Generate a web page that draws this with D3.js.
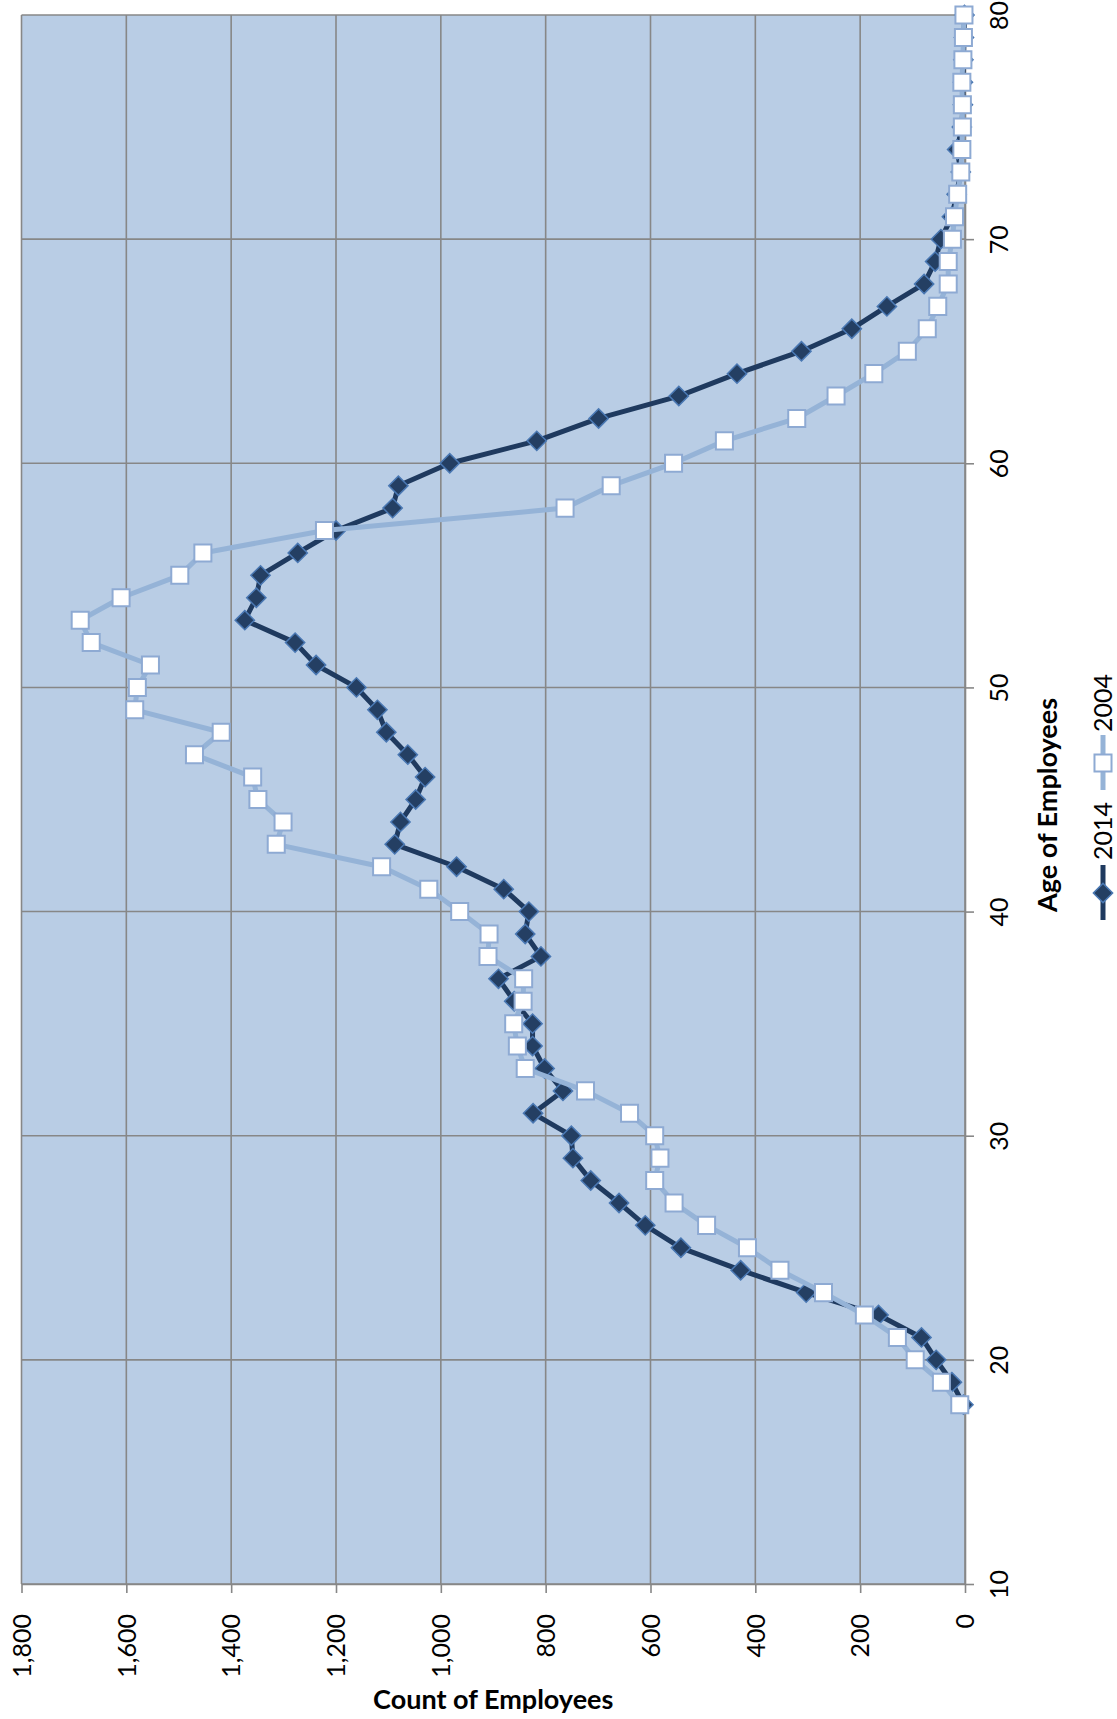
<!DOCTYPE html>
<html>
<head>
<meta charset="utf-8">
<script src="https://cdn.jsdelivr.net/npm/d3@7"></script>
<style>
  body { margin: 0; background: #fff; }
  #canvas { width: 1117px; height: 1719px; }
  .tick text { font-family: Lato, "Open Sans", sans-serif; }
</style>
</head>
<body>
<div id="canvas"></div>
<script>
// ages on the (vertical) category axis
var ages = d3.range(18, 81)

var count2014 = [3, 25, 55, 83, 165, 303, 428, 542, 610, 660, 714, 748, 751,
    824, 767, 802, 825, 825, 860, 890, 809, 839, 832, 880, 970,
    1088, 1077, 1048, 1030, 1063, 1104, 1121, 1161, 1238, 1278, 1374, 1352, 1344, 1273, 1200,
    1092, 1081, 983, 817, 699, 546, 435, 312, 216, 149, 78, 57, 46, 25, 16, 8, 15,
    6, 4, 4, 3, 2, 1]

var count2004 = [10, 45, 95, 129, 192, 270, 353, 415, 493, 555, 592, 582, 592,
    640, 724, 839, 854, 861, 843, 842, 910, 908, 964, 1023, 1113,
    1314, 1301, 1349, 1359, 1470, 1419, 1584, 1579, 1554, 1667, 1688, 1610, 1498, 1454, 1222,
    763, 675, 556, 459, 321, 246, 174, 110, 72, 52, 32, 32, 24, 20, 14, 8, 6,
    5, 5, 6, 4, 3, 2]

var countTicks = [0, 200, 400, 600, 800, 1000, 1200, 1400, 1600, 1800]
var ageTicks = [10, 20, 30, 40, 50, 60, 70, 80]

var width = 1117
var height = 1719
var plotLeft = 21.5, plotRight = 965, plotTop = 15, plotBottom = 1584

var svg = d3.select("#canvas")
    .append("svg")
    .attr("width", width)
    .attr("height", height)

var xScale = d3.scaleLinear().domain([0, 1800]).range([plotRight, plotLeft])
var yScale = d3.scaleLinear().domain([10, 80]).range([plotBottom, plotTop])

// plot area
svg.append("rect")
    .attr("x", plotLeft).attr("y", plotTop)
    .attr("width", plotRight - plotLeft).attr("height", plotBottom - plotTop)
    .attr("fill", "#b9cde5")

// grid
svg.selectAll(".vgrid")
    .data(countTicks)
    .enter()
    .append("line")
    .attr("x1", function (d) { return xScale(d) })
    .attr("x2", function (d) { return xScale(d) })
    .attr("y1", plotTop).attr("y2", plotBottom)
    .attr("stroke", "#878787").attr("stroke-width", 1.6)

svg.selectAll(".hgrid")
    .data(ageTicks)
    .enter()
    .append("line")
    .attr("x1", plotLeft).attr("x2", plotRight)
    .attr("y1", function (d) { return yScale(d) })
    .attr("y2", function (d) { return yScale(d) })
    .attr("stroke", "#878787").attr("stroke-width", 1.6)

// count axis (bottom), labels turned to read upwards
var xAxis = svg.append("g")
    .attr("transform", `translate(0,${plotBottom})`)
    .call(d3.axisBottom(xScale)
        .tickValues(countTicks)
        .tickSize(9)
        .tickSizeOuter(0)
        .tickFormat(d3.format(",")))

xAxis.select(".domain").attr("stroke", "#878787").attr("stroke-width", 1.6)
xAxis.selectAll(".tick line").attr("stroke", "#878787").attr("stroke-width", 1.6)
xAxis.selectAll(".tick text")
    .attr("x", -30)
    .attr("y", 0)
    .attr("dy", "0.35em")
    .attr("transform", "rotate(-90)")
    .style("text-anchor", "end")
    .style("font-size", "25px")
    .attr("fill", "#000")

// age axis (right side)
var yAxis = svg.append("g")
    .attr("transform", `translate(${plotRight},0)`)
    .call(d3.axisRight(yScale)
        .tickValues(ageTicks)
        .tickSize(9)
        .tickSizeOuter(0))

yAxis.select(".domain").attr("stroke", "#878787").attr("stroke-width", 1.6)
yAxis.selectAll(".tick line").attr("stroke", "#878787").attr("stroke-width", 1.6)
yAxis.selectAll(".tick text")
    .attr("x", 0)
    .attr("y", 0)
    .attr("dy", "0.35em")
    .attr("transform", "translate(34,0) rotate(-90)")
    .style("text-anchor", "middle")
    .style("font-size", "25px")
    .attr("fill", "#000")

// series
var line2014 = d3.line()
    .x(function (d, i) { return xScale(count2014[i]) })
    .y(function (d) { return yScale(d) })

var line2004 = d3.line()
    .x(function (d, i) { return xScale(count2004[i]) })
    .y(function (d) { return yScale(d) })

svg.append("path")
    .datum(ages)
    .attr("d", line2014)
    .attr("fill", "none")
    .attr("stroke", "#1f3a5f")
    .attr("stroke-width", 5)
    .attr("stroke-linejoin", "round")

svg.selectAll(".m2014")
    .data(ages)
    .enter()
    .append("path")
    .attr("d", d3.symbol(d3.symbolSquare, 185))
    .attr("transform", function (d, i) {
        return `translate(${xScale(count2014[i])},${yScale(d)}) rotate(45)`
    })
    .attr("fill", "#243f63")
    .attr("stroke", "#4a78b3")
    .attr("stroke-width", 1.5)

svg.append("path")
    .datum(ages)
    .attr("d", line2004)
    .attr("fill", "none")
    .attr("stroke", "#95b3d7")
    .attr("stroke-width", 5)
    .attr("stroke-linejoin", "round")

svg.selectAll(".m2004")
    .data(ages)
    .enter()
    .append("path")
    .attr("d", d3.symbol(d3.symbolSquare, 290))
    .attr("transform", function (d, i) {
        return `translate(${xScale(count2004[i])},${yScale(d)})`
    })
    .attr("fill", "#fff")
    .attr("stroke", "#8eaad3")
    .attr("stroke-width", 2)

// axis titles
svg.append("text")
    .attr("x", (plotLeft + plotRight) / 2)
    .attr("y", 1709)
    .attr("text-anchor", "middle")
    .style("font-family", "Lato, 'Open Sans', sans-serif")
    .style("font-weight", "bold")
    .style("font-size", "27px")
    .text("Count of Employees")

svg.append("text")
    .attr("transform", "translate(1057,805) rotate(-90)")
    .attr("text-anchor", "middle")
    .style("font-family", "Lato, 'Open Sans', sans-serif")
    .style("font-weight", "bold")
    .style("font-size", "27px")
    .text("Age of Employees")

// legend, turned like the rest
var legend = svg.append("g").attr("transform", "translate(1103,0)")

legend.append("line")
    .attr("x1", 0).attr("x2", 0).attr("y1", 865).attr("y2", 920)
    .attr("stroke", "#1f3a5f").attr("stroke-width", 5)
legend.append("path")
    .attr("d", d3.symbol(d3.symbolSquare, 185))
    .attr("transform", "translate(0,893) rotate(45)")
    .attr("fill", "#243f63").attr("stroke", "#4a78b3").attr("stroke-width", 1.5)
legend.append("text")
    .attr("transform", "translate(0,860) rotate(-90)")
    .attr("dy", "0.35em")
    .style("font-family", "Lato, 'Open Sans', sans-serif")
    .style("font-size", "25px")
    .text("2014")

legend.append("line")
    .attr("x1", 0).attr("x2", 0).attr("y1", 735).attr("y2", 790)
    .attr("stroke", "#95b3d7").attr("stroke-width", 5)
legend.append("path")
    .attr("d", d3.symbol(d3.symbolSquare, 290))
    .attr("transform", "translate(0,763)")
    .attr("fill", "#fff").attr("stroke", "#8eaad3").attr("stroke-width", 2)
legend.append("text")
    .attr("transform", "translate(0,732) rotate(-90)")
    .attr("dy", "0.35em")
    .style("font-family", "Lato, 'Open Sans', sans-serif")
    .style("font-size", "25px")
    .text("2004")
</script>
</body>
</html>
